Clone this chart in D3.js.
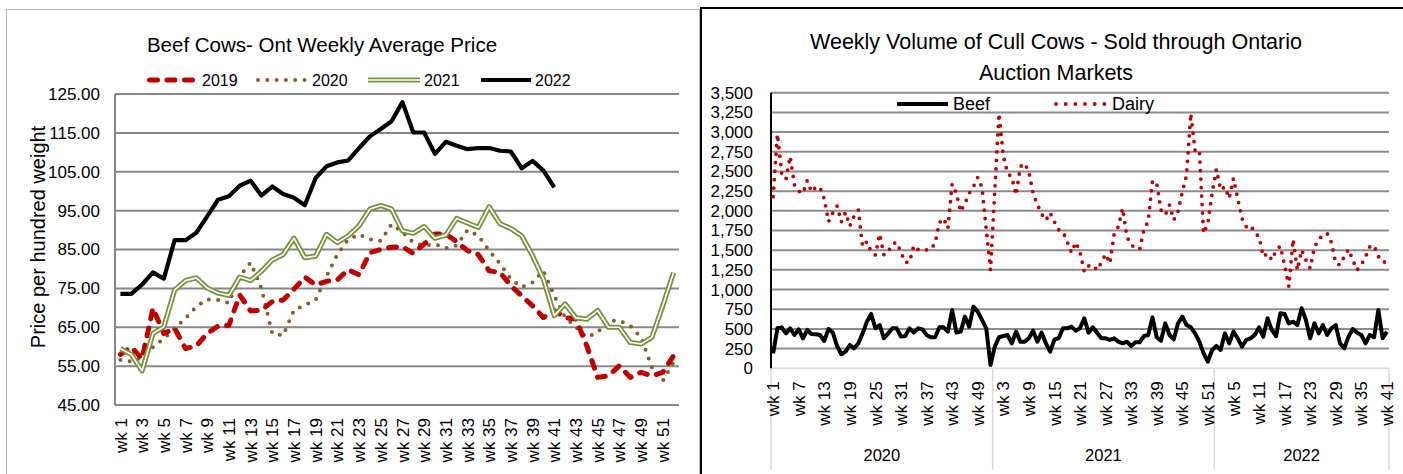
<!DOCTYPE html>
<html><head><meta charset="utf-8">
<script src="https://cdn.jsdelivr.net/npm/d3@7"></script>
<style>
html,body{margin:0;padding:0;background:#fff;}
svg{display:block;}
text{font-family:"Liberation Sans",Arial,sans-serif;fill:#000;}
</style></head><body>
<svg id="c" width="1403" height="474"></svg>
<script>
// ---------- LEFT CHART DATA ----------
const leftWeeks = ["wk 1","wk 2","wk 3","wk 4","wk 5","wk 6","wk 7","wk 8","wk 9","wk 10",
  "wk 11","wk 12","wk 13","wk 14","wk 15","wk 16","wk 17","wk 18","wk 19","wk 20",
  "wk 21","wk 22","wk 23","wk 24","wk 25","wk 26","wk 27","wk 28","wk 29","wk 30",
  "wk 31","wk 32","wk 33","wk 34","wk 35","wk 36","wk 37","wk 38","wk 39","wk 40",
  "wk 41","wk 42","wk 43","wk 44","wk 45","wk 46","wk 47","wk 48","wk 49","wk 50",
  "wk 51","wk 52"];
const leftYTicks = [45,55,65,75,85,95,105,115,125];
const leftSeriesNames = ["2019","2020","2021","2022"];
const price2019 = [58.0,59.9,56.9,69.9,63.4,64.7,59.5,60.2,63.4,65.3,
  65.5,73.3,69.2,69.4,71.6,72.0,74.8,77.9,75.9,76.8,
  77.2,79.8,78.5,84.2,85.0,85.6,85.7,84.0,86.4,89.0,
  89.0,87.0,84.7,83.7,79.5,79.1,75.7,73.1,70.5,67.5,
  69.3,67.5,67.1,60.2,52.1,52.5,55.1,52.1,53.4,52.5,
  53.4,57.7];
const price2020 = [56.6,56.2,57.3,59.9,62.1,64.7,67.3,70.3,72.2,72.0,
  71.2,78.1,81.6,75.0,63.4,62.9,69.4,70.7,72.0,78.1,
  83.7,87.6,88.9,87.6,87.2,91.5,89.5,86.8,86.0,86.4,
  85.3,86.0,90.0,88.5,84.7,81.3,77.4,75.3,76.5,79.5,
  73.1,67.5,65.0,62.4,63.7,66.7,66.7,65.4,62.4,54.7,
  51.2,56.0];
const price2021 = [59.5,58.0,53.8,63.4,65.1,74.6,77.0,77.7,75.1,73.8,
  73.2,77.9,77.0,79.4,82.3,83.7,87.9,82.9,83.3,88.9,
  86.8,88.5,91.1,95.4,96.3,95.4,89.8,89.2,90.9,87.9,
  88.7,93.0,91.8,90.7,96.0,91.6,90.4,88.5,83.4,77.4,
  68.0,71.0,67.4,67.1,69.3,65.0,65.0,61.1,60.7,62.4,
  70.5,79.1];
const price2022 = [73.6,73.6,76.0,79.1,77.5,87.4,87.4,89.3,93.5,97.8,
  98.7,101.4,102.7,98.9,101.2,99.3,98.3,96.4,103.4,106.4,
  107.4,107.9,111.1,114.1,116.0,118.0,122.9,115.1,115.1,109.6,
  112.7,111.7,110.8,111.1,111.1,110.4,110.2,105.9,107.8,105.3,
  101.0];

// ---------- RIGHT CHART DATA ----------
const rightYears = ["2020","2021","2022"];
const rightWeekCounts = [52,52,41];
const rightYTicks = [0,250,500,750,1000,1250,1500,1750,2000,2250,2500,2750,3000,3250,3500];
const rightSeriesNames = ["Beef","Dairy"];
const beefVolume = [
  190,508,520,444,508,423,495,381,487,436, 432,423,347,499,453,283,178,212,296,254,
  317,444,592,690,508,550,381,444,508,508, 402,410,508,453,508,495,423,394,394,520,
  520,466,740,453,466,656,529,783,720,614, 508,42,
  275,394,410,423,317,466,338,338,381,478, 338,453,317,212,368,381,508,508,529,478,
  508,635,453,520,453,381,381,360,381,338, 317,338,283,330,330,410,423,647,394,351,
  571,423,368,571,656,550,520,444,339,190, 85,233,
  284,233,444,317,466,381,275,360,381,423, 520,402,635,487,410,698,690,571,592,550,
  762,614,381,571,444,550,423,508,550,317, 254,402,499,453,423,317,423,394,740,381,
  466];
const dairyVolume = [
  2180,2975,2476,2400,2690,2330,2250,2222,2383,2240, 2300,2300,2150,1862,1976,2061,1858,1980,1807,1934,
  2010,1545,1608,1481,1439,1705,1439,1481,1579,1600, 1473,1346,1346,1557,1510,1502,1505,1511,1587,1849,
  1904,1777,2340,2222,1989,2095,2222,2306,2425,2298, 1765,1248,
  2250,3237,2700,2480,2425,2200,2560,2603,2497,2222, 2080,1960,1880,1976,1860,1760,1735,1608,1469,1600,
  1480,1227,1300,1312,1248,1341,1452,1333,1700,1800, 2031,1672,1566,1530,1511,1765,1862,2383,2349,2010,
  1947,2074,1883,1989,2243,2450,3237,2763,2772,1714, 1841,2230,
  2527,2264,2306,2158,2412,2158,1904,1799,1820,1722, 1672,1418,1460,1375,1494,1553,1312,1037,1638,1248,
  1502,1375,1270,1536,1638,1690,1714,1596,1333,1312, 1418,1511,1375,1248,1312,1418,1545,1560,1418,1400,
  1282];

// ---------- DRAW ----------
const svg = d3.select("#c");

// panel frames
svg.append("rect").attr("x",6.5).attr("y",9.5).attr("width",693).attr("height",520)
  .attr("fill","none").attr("stroke","#bfbfbf").attr("stroke-width",1);
svg.append("rect").attr("x",701).attr("y",8).attr("width",720).attr("height",520)
  .attr("fill","none").attr("stroke","#000").attr("stroke-width",2);

// ===== LEFT =====
const xL = d3.scaleBand().domain(leftWeeks).range([115,679]);
const yL = d3.scaleLinear().domain([45,125]).range([405,94]);
const gL = svg.append("g");

gL.selectAll(".gl").data(leftYTicks).enter().append("line")
  .attr("x1",115).attr("x2",679).attr("y1",d=>yL(d)).attr("y2",d=>yL(d))
  .attr("stroke","#878787").attr("stroke-width",2);
gL.append("line").attr("x1",115).attr("x2",115).attr("y1",yL(125)).attr("y2",yL(45))
  .attr("stroke","#878787").attr("stroke-width",2);

const yAxL = gL.append("g").attr("transform","translate(115,0)")
  .call(d3.axisLeft(yL).tickValues(leftYTicks).tickFormat(d3.format(".2f")).tickSize(0).tickPadding(15));
yAxL.select(".domain").remove();
yAxL.selectAll("text").attr("font-size",17).attr("font-family",null);

const xAxL = gL.append("g").attr("transform","translate(0,405)")
  .call(d3.axisBottom(xL).tickValues(leftWeeks.filter((d,i)=>i%2===0)).tickSize(0));
xAxL.select(".domain").remove();
xAxL.selectAll("text").attr("transform","rotate(-90)").attr("text-anchor","end")
  .attr("x",-13).attr("y",0).attr("dy","0.36em").attr("font-size",17).attr("font-family",null);

gL.append("text").attr("transform","translate(45,237) rotate(-90)")
  .attr("text-anchor","middle").attr("font-size",20).text("Price per hundred weight");

gL.append("text").attr("x",322).attr("y",52).attr("text-anchor","middle").attr("font-size",20.5)
  .text("Beef Cows- Ont Weekly Average Price");

const lineL = d3.line().x((d,i)=>xL(leftWeeks[i])+xL.bandwidth()/2).y(d=>yL(d));

const sty = {
  "2019": {stroke:"#c00000", width:5, dash:"8 9.5", cap:"round"},
  "2020": {stroke:"#8a5a28", width:4, dash:"0 9.3", cap:"round"},
  "2022": {stroke:"#000", width:4.2, dash:null, cap:"butt"}
};
function drawStyled(g, pathD, s){
  const p = g.append("path").attr("d",pathD).attr("fill","none").attr("stroke",s.stroke)
    .attr("stroke-width",s.width).attr("stroke-linecap",s.cap).attr("stroke-linejoin","round");
  if (s.dash) p.attr("stroke-dasharray",s.dash);
}
function drawDouble(g, pathD){
  g.append("path").attr("d",pathD).attr("fill","none").attr("stroke","#76923c").attr("stroke-width",5.2).attr("stroke-linejoin","round");
  g.append("path").attr("d",pathD).attr("fill","none").attr("stroke","#fff").attr("stroke-width",1.6).attr("stroke-linejoin","round");
}
drawStyled(gL, lineL(price2020), sty["2020"]);
drawStyled(gL, lineL(price2019), sty["2019"]);
drawDouble(gL, lineL(price2021));
drawStyled(gL, lineL(price2022), sty["2022"]);

// legend left
const legL = [
  {name:leftSeriesNames[0], x1:149.5, x2:193.5, tx:202},
  {name:leftSeriesNames[1], x1:258, x2:306.4, tx:312},
  {name:leftSeriesNames[2], x1:368, x2:420, tx:424},
  {name:leftSeriesNames[3], x1:481, x2:531, tx:535}
];
legL.forEach(l=>{
  const d = `M${l.x1},80L${l.x2},80`;
  if (l.name==="2021") drawDouble(gL,d); else drawStyled(gL,d,sty[l.name]);
  gL.append("text").attr("x",l.tx).attr("y",86).attr("font-size",16).text(l.name);
});

// ===== RIGHT =====
const rightCats = [];
rightYears.forEach((yr,yi)=>{ for(let w=1; w<=rightWeekCounts[yi]; w++) rightCats.push({key:yr+"-"+w, label:"wk "+w, year:yr}); });
const rightKeys = rightCats.map(c=>c.key);
const labelOf = new Map(rightCats.map(c=>[c.key,c.label]));

const xR = d3.scaleBand().domain(rightKeys).range([771,1389]);
const yR = d3.scaleLinear().domain([0,3500]).range([368.3,92.7]);
const gR = svg.append("g");

gR.selectAll(".gr").data(rightYTicks.filter(d=>d>0)).enter().append("line")
  .attr("x1",771).attr("x2",1389).attr("y1",d=>yR(d)).attr("y2",d=>yR(d))
  .attr("stroke","#8c8c8c").attr("stroke-width",2);
gR.append("line").attr("x1",771).attr("x2",1389).attr("y1",yR(0)).attr("y2",yR(0))
  .attr("stroke","#d9d9d9").attr("stroke-width",1.5);

// year separators
const sepX = rightYears.map(yr=>xR(yr+"-1")).concat([1389]);
gR.selectAll(".sep").data(sepX).enter().append("line")
  .attr("x1",d=>d).attr("x2",d=>d).attr("y1",yR(0)).attr("y2",470)
  .attr("stroke","#d9d9d9").attr("stroke-width",1.5);
rightYears.forEach((yr,i)=>{
  gR.append("text").attr("x",(sepX[i]+sepX[i+1])/2).attr("y",461).attr("text-anchor","middle")
    .attr("font-size",16.5).text(yr);
});

const yAxR = gR.append("g").attr("transform","translate(771,0)")
  .call(d3.axisLeft(yR).tickValues(rightYTicks).tickFormat(d3.format(",")).tickSize(0).tickPadding(18));
yAxR.select(".domain").remove();
yAxR.selectAll("text").attr("font-size",17).attr("font-family",null);

const xAxR = gR.append("g").attr("transform",`translate(0,${yR(0)})`)
  .call(d3.axisBottom(xR).tickValues(rightKeys.filter((d,i)=>i%6===0)).tickFormat(d=>labelOf.get(d)).tickSize(0));
xAxR.select(".domain").remove();
xAxR.selectAll("text").attr("transform","rotate(-90)").attr("text-anchor","end")
  .attr("x",-13).attr("y",0).attr("dy","0.36em").attr("font-size",17).attr("font-family",null);

gR.append("line").attr("x1",771).attr("x2",771).attr("y1",yR(3500)).attr("y2",yR(0))
  .attr("stroke","#000").attr("stroke-width",2);

gR.append("text").attr("x",1056).attr("y",49).attr("text-anchor","middle").attr("font-size",21.5)
  .text("Weekly Volume of Cull Cows - Sold through Ontario");
gR.append("text").attr("x",1056).attr("y",80).attr("text-anchor","middle").attr("font-size",21.5)
  .text("Auction Markets");

const lineR = d3.line().x((d,i)=>xR(rightKeys[i])+xR.bandwidth()/2).y(d=>yR(d));
gR.append("path").attr("d",lineR(dairyVolume)).attr("fill","none").attr("stroke","#c00000")
  .attr("stroke-width",3.8).attr("stroke-linecap","round").attr("stroke-dasharray","0 8.5");
gR.append("path").attr("d",lineR(beefVolume)).attr("fill","none").attr("stroke","#000")
  .attr("stroke-width",4).attr("stroke-linejoin","round");

// legend right
gR.append("path").attr("d","M897,104L948,104").attr("stroke","#000").attr("stroke-width",4);
gR.append("text").attr("x",953).attr("y",110).attr("font-size",18).text(rightSeriesNames[0]);
gR.append("path").attr("d","M1056,104L1104.4,104").attr("stroke","#c00000").attr("stroke-width",3.8)
  .attr("stroke-linecap","round").attr("stroke-dasharray","0 9.68");
gR.append("text").attr("x",1112).attr("y",110).attr("font-size",18).text(rightSeriesNames[1]);
</script>
</body></html>
